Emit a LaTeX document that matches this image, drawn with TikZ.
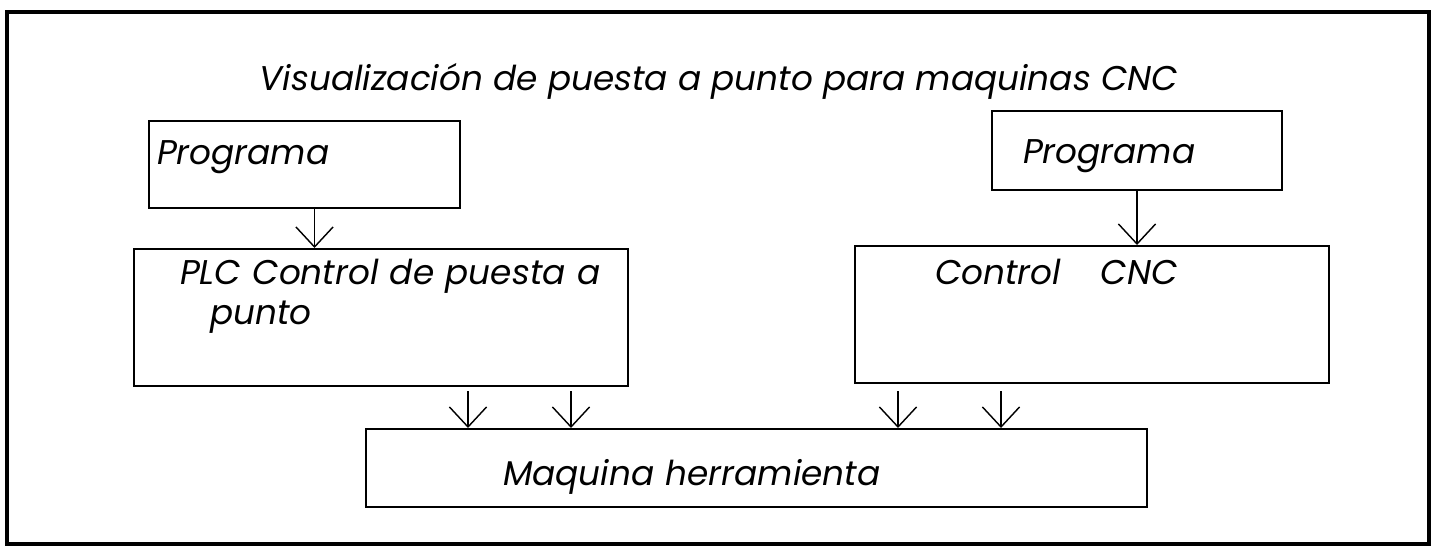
\documentclass[tikz,border=0pt]{standalone}
\usepackage{fontspec}
\setmainfont{Poppins}
\usetikzlibrary{arrows.meta,positioning,calc}

\begin{document}
\begin{tikzpicture}[x=0.7pt, y=-0.7pt, line join=miter,
        font=\fontsize{24}{28}\selectfont\itshape]
        \tikzstyle{caja}=[draw=black, line width=1.4pt, rectangle, inner ysep=0pt, align=left, anchor=north west]
        \tikzstyle{flecha}=[line width=1pt, -{Straight Barb[length=14pt, width=26pt, line width=1pt]}]
        \useasboundingbox (0,0) rectangle (1436,546);
        \draw[line width=3pt] (7,12) rectangle (1429,544);
        \node[anchor=base, inner sep=0pt] (titulo) at (719,90) {Visualización de puesta a punto para maquinas CNC};
        % izquierda
        \node[caja, inner xsep=5.6pt, text width=206.5pt, text height=30.1pt, text depth=30.8pt] (prog1) at (148,120) {Programa};
        \node[caja, inner xsep=32.2pt, text width=281.4pt, text height=24.5pt, text depth=71.4pt] (plc) at (133,248) {\mbox{PLC Control de puesta a}\\\hspace*{21pt}punto};
        % derecha
        \node[caja, inner xsep=21.7pt, text width=159.6pt, text height=36.4pt, text depth=18.9pt] (prog2) at (991,110) {Programa};
        \node[caja, inner xsep=56pt, text width=219.8pt, text height=26.6pt, text depth=69.3pt] (cnc) at (854,245) {Control\hspace{28pt}CNC};
        % abajo
        \node[caja, inner xsep=95.9pt, text width=354.9pt, text height=39.2pt, text depth=15.4pt] (maq) at (365,428) {Maquina herramienta};
        \draw[flecha] ([xshift=7pt]prog1.south) -- ([xshift=7pt]prog1.south |- plc.north);
        \draw[flecha] (prog2.south) -- (prog2.south |- cnc.north);
        \draw[flecha] ([xshift=60.9pt, yshift=-2.8pt]plc.south) -- ([xshift=60.9pt]plc.south |- maq.north);
        \draw[flecha] ([xshift=133pt, yshift=-2.8pt]plc.south) -- ([xshift=133pt]plc.south |- maq.north);
        \draw[flecha] ([xshift=-135.8pt, yshift=-4.9pt]cnc.south) -- ([xshift=-135.8pt]cnc.south |- maq.north);
        \draw[flecha] ([xshift=-63.7pt, yshift=-4.9pt]cnc.south) -- ([xshift=-63.7pt]cnc.south |- maq.north);
\end{tikzpicture}
\end{document}
